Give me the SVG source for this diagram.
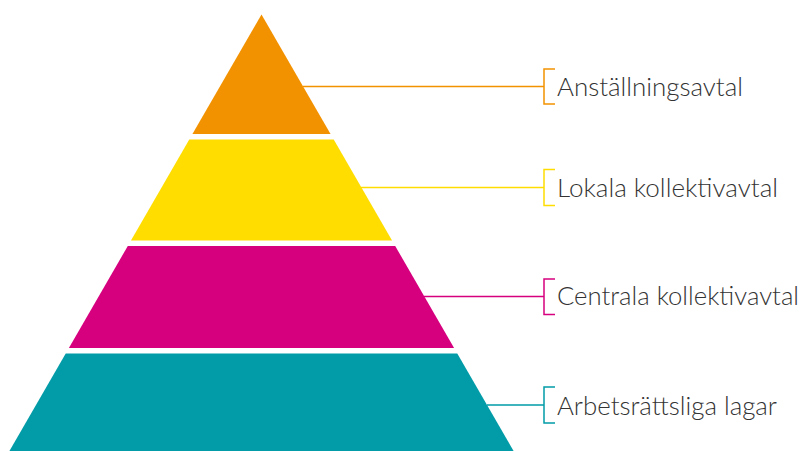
<svg xmlns="http://www.w3.org/2000/svg" width="803" height="451" viewBox="0 0 803 451">
<style>
.lbl{font-family:"Lato","Liberation Sans",sans-serif;font-weight:300;font-size:25px;fill:#333333}
.con{fill:none;stroke-width:1.5}
</style>
<rect width="803" height="451" fill="#ffffff"/>
<g id="connectors">
<path class="con" stroke="#F39200" d="M303 86.5H544M555 69H544V104H555"/>
<path class="con" stroke="#FFDD00" d="M361 187.5H544M555 169.5H544V205.5H555"/>
<path class="con" stroke="#D6007F" d="M424 296.5H544M555 279H544V314.5H555"/>
<path class="con" stroke="#029CA8" d="M487 405H544M555 387H544V423H555"/>
</g>
<g id="level1">
<polygon fill="#F39200" points="261.5,14.4 330.55,134 192.45,134"/>
<text class="lbl" x="557" y="96" textLength="186" lengthAdjust="spacingAndGlyphs">Anställningsavtal</text>
</g>
<g id="level2">
<polygon fill="#FFDD00" points="189.27,139.5 333.73,139.5 392.04,240.5 130.96,240.5"/>
<text class="lbl" x="557" y="197" textLength="221" lengthAdjust="spacingAndGlyphs">Lokala kollektivavtal</text>
</g>
<g id="level3">
<polygon fill="#D6007F" points="127.79,246 395.21,246 454.1,348 68.9,348"/>
<text class="lbl" x="557" y="305" textLength="242" lengthAdjust="spacingAndGlyphs">Centrala kollektivavtal</text>
</g>
<g id="level4">
<polygon fill="#029CA8" points="65.72,353.5 457.28,353.5 513.57,451 9.43,451"/>
<text class="lbl" x="557" y="414.5" textLength="220" lengthAdjust="spacingAndGlyphs">Arbetsrättsliga lagar</text>
</g>
</svg>
